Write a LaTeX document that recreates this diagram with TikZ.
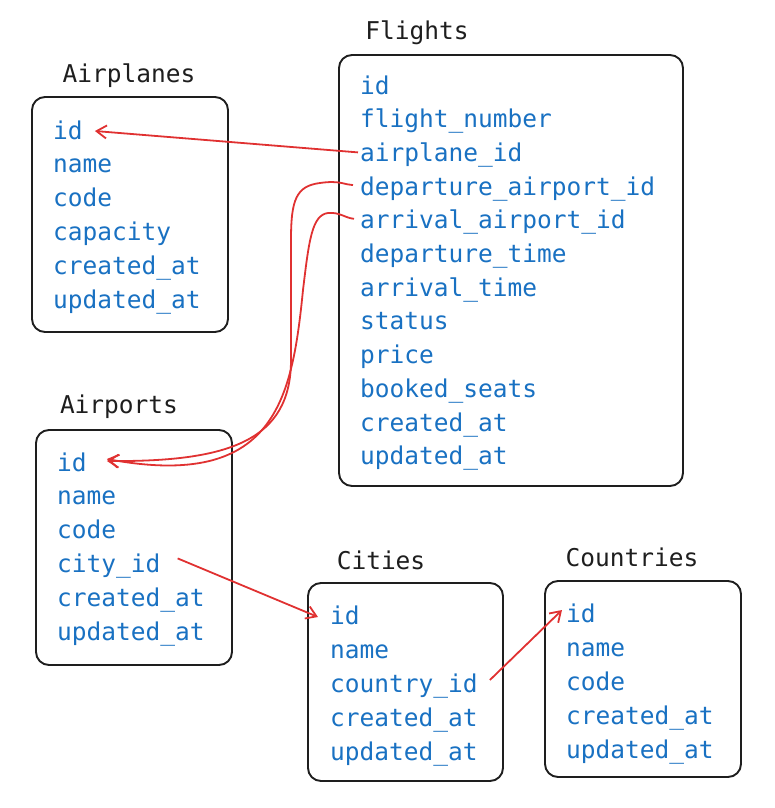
\documentclass[tikz,border=0pt]{standalone}
\usepackage{fontspec}
\setmonofont{DejaVu Sans Mono}
\usetikzlibrary{arrows.meta}
\definecolor{fieldblue}{HTML}{1971C2}
\definecolor{linkred}{HTML}{E03131}
\definecolor{inkblack}{HTML}{1E1E1E}
\begin{document}
\begin{tikzpicture}[x=1pt,y=-1pt]
        \tikzstyle{table}=[draw=inkblack, line width=1.9pt, rounded corners=13pt, rectangle]
        \tikzstyle{title}=[text=inkblack, font=\fontsize{24.5}{28}\ttfamily, inner sep=0pt]
        \tikzstyle{field}=[text=fieldblue, font=\fontsize{24.5}{28}\ttfamily, inner sep=0pt, text height=18pt, text depth=0pt, anchor=west]
        \tikzstyle{link}=[draw=linkred, line width=1.8pt, -{Straight Barb[length=10pt,width=13pt]}]
        \useasboundingbox (0,0) rectangle (774,808);
        % tables
        \node[table, minimum width=196pt, minimum height=235pt] (airplanes) at (130,214.5) {};
        \node[table, minimum width=344pt, minimum height=431pt] (flights) at (511,270.5) {};
        \node[table, minimum width=196pt, minimum height=235pt] (airports) at (134,547.5) {};
        \node[table, minimum width=195pt, minimum height=198pt] (cities) at (405.5,682) {};
        \node[table, minimum width=196pt, minimum height=196pt] (countries) at (643,679) {};
        % titles
        \node[title] (t-airplanes) at (129,76) {Airplanes};
        \node[title] (t-flights) at (417,33) {Flights};
        \node[title] (t-airports) at (119,407) {Airports};
        \node[title] (t-cities) at (381,560) {Cities};
        \node[title] (t-countries) at (632,557) {Countries};
        % fields
        \foreach \name [count=\i] in {id,name,code,capacity,created\_at,updated\_at}
          \node[field] (ap\i) at (53,{130+(\i-1)*33.8}) {\name};
        \foreach \name [count=\i] in {id,flight\_number,airplane\_id,departure\_airport\_id,arrival\_airport\_id,departure\_time,arrival\_time,status,price,booked\_seats,created\_at,updated\_at}
          \node[field] (fl\i) at (360,{85+(\i-1)*33.7}) {\name};
        \foreach \name [count=\i] in {id,name,code,city\_id,created\_at,updated\_at}
          \node[field] (ai\i) at (57,{462+(\i-1)*33.8}) {\name};
        \foreach \name [count=\i] in {id,name,country\_id,created\_at,updated\_at}
          \node[field] (ci\i) at (330,{615+(\i-1)*34}) {\name};
        \foreach \name [count=\i] in {id,name,code,created\_at,updated\_at}
          \node[field] (co\i) at (566,{613+(\i-1)*34}) {\name};
        % links
        \draw[link] ([xshift=-2pt]fl3.west) -- ([xshift=12pt,yshift=-1pt]ap1.east);
        \draw[link] ([xshift=-7pt,yshift=1pt]fl4.west) .. controls (345,185) and (340,180) .. (320,183)
          .. controls (296,186) and (291,200) .. (291,240) -- (291,360)
          .. controls (291,440) and (230,462) .. ([xshift=20pt,yshift=1pt]ai1.east);
        \draw[link] ([xshift=-6pt,yshift=1pt]fl5.west) .. controls (345,218) and (340,212) .. (328,213)
          .. controls (312,215) and (309,240) .. (303,290)
          .. controls (292,400) and (275,490) .. ([xshift=20pt,yshift=3pt]ai1.east);
        \draw[link] ([xshift=17pt,yshift=5pt]ai4.east) -- ([xshift=-12pt,yshift=-2pt]ci1.west);
        \draw[link] ([xshift=12pt,yshift=3pt]ci3.east) -- ([xshift=-4pt,yshift=3pt]co1.west);
\end{tikzpicture}
\end{document}
